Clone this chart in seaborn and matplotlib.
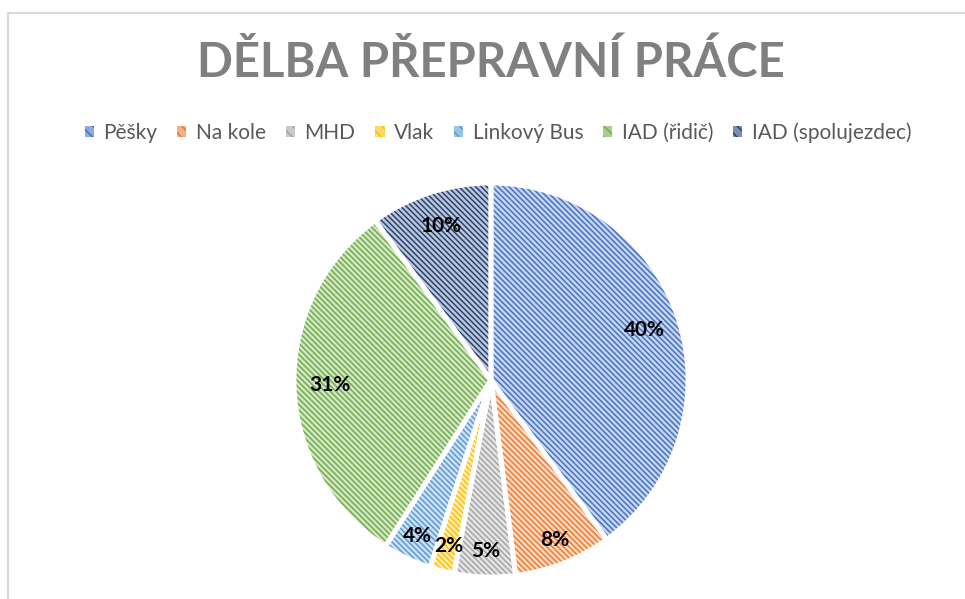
import numpy as np
import matplotlib.pyplot as plt
import matplotlib.colors as mcolors
from matplotlib.patches import Patch
from matplotlib.lines import Line2D
import seaborn as sns

sns.set_theme(style='white')
plt.rcParams['font.family'] = ['Lato', 'DejaVu Sans']
plt.rcParams['hatch.linewidth'] = 1.1

# data
labels = ['Pěšky', 'Na kole', 'MHD', 'Vlak', 'Linkový Bus', 'IAD (řidič)', 'IAD (spolujezdec)']
values = [40, 8, 5, 2, 4, 31, 10]
barvy = ['#4472C4', '#ED7D31', '#A5A5A5', '#FFC000', '#5B9BD5', '#70AD47', '#264478']
title = 'DĚLBA PŘEPRAVNÍ PRÁCE'

def svetla(c, k=0.3):  # zesvetleni barvy
    r, g, b = mcolors.to_rgb(c)
    return (1 - k + k * r, 1 - k + k * g, 1 - k + k * b)

light = [svetla(c) for c in barvy]
srafa = '\\' * 6
vzdal = [0.82, 0.875, 0.87, 0.87, 0.875, 0.82, 0.82]  # vzdalenost popisku

fig = plt.figure(figsize=(9.65, 5.99), dpi=100)
fig.patch.set_facecolor('white')
ax = fig.add_axes([294 / 965, 22 / 599, 394 / 965, 394 / 599])

wedges, texts, autotexts = ax.pie(values, colors=light, startangle=90, counterclock=False,
                                  autopct='%1.0f%%', pctdistance=0.82, radius=1,
                                  wedgeprops=dict(linewidth=0, hatch=srafa),
                                  textprops=dict(fontsize=15, fontweight='bold', color='black'))
for w, c in zip(wedges, barvy):
    w.set_edgecolor(c)
    w.set_linewidth(0)
for w, t, d in zip(wedges, autotexts, vzdal):
    th = np.deg2rad((w.theta1 + w.theta2) / 2)
    t.set_position((d * np.cos(th), d * np.sin(th)))
    t.set_zorder(5)
# bile okraje
ax.pie(values, startangle=90, counterclock=False, radius=1,
       wedgeprops=dict(fill=False, edgecolor='white', linewidth=3.5))
ax.set_xlim(-1, 1)
ax.set_ylim(-1, 1)
ax.axis('off')

fig.text(491 / 965, 1 - 63 / 599, title, ha='center', va='center',
         fontsize=34, fontweight='bold', color='#808080')

handles = [Patch(facecolor=svetla(c, 0.6), edgecolor=c, hatch='\\\\\\', linewidth=0) for c in barvy]
fig.legend(handles, labels, loc='center', bbox_to_anchor=(498 / 965, 1 - 133 / 599), ncol=7,
           frameon=False, fontsize=15, handlelength=0.45, handleheight=0.45,
           handletextpad=0.45, columnspacing=0.95, labelcolor='#595959')

fig.add_artist(Line2D([8 / 965, 8 / 965], [0, 1 - 13 / 599], color='#d9d9d9', linewidth=1.5))
fig.add_artist(Line2D([8 / 965, 1], [1 - 13 / 599, 1 - 13 / 599], color='#d9d9d9', linewidth=1.5))

fig.savefig('out.png', dpi=100, facecolor='white')
